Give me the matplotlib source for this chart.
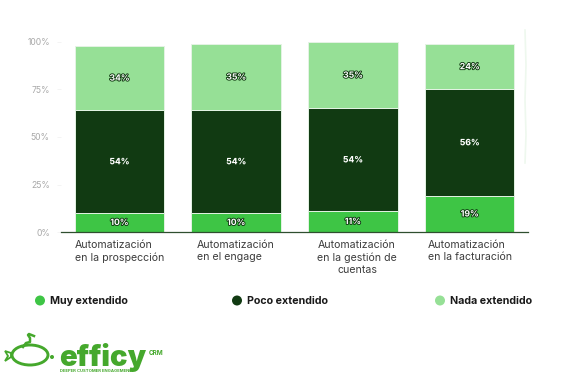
import matplotlib

matplotlib.use("Agg")
import matplotlib.pyplot as plt
import matplotlib.patheffects as pe
import numpy as np
from matplotlib.patches import Circle, Ellipse, Polygon
from matplotlib.transforms import ScaledTranslation

W, H = 570, 375

categories = [
    "Automatización\nen la prospección",
    "Automatización\nen el engage",
    "Automatización\nen la gestión de\ncuentas",
    "Automatización\nen la facturación",
]
muy = [10, 10, 11, 19]
poco = [54, 54, 54, 56]
nada = [34, 35, 35, 24]
series_names = ["Muy extendido", "Poco extendido", "Nada extendido"]
y_ticks = [0, 25, 50, 75, 100]
y_tick_labels = ["0%", "25%", "50%", "75%", "100%"]

C_MUY = "#3ec545"
C_POCO = "#113a12"
C_NADA = "#96e096"
LOGO = "#45a82c"

plt.rcParams["font.family"] = ["Inter", "DejaVu Sans"]

fig = plt.figure(figsize=(W / 100, H / 100), dpi=100)
ax = fig.add_axes([61 / W, (H - 232) / H, 467 / W, 190 / H])

x = np.arange(len(categories))
bottom = np.zeros(len(categories))
for vals, color in [(muy, C_MUY), (poco, C_POCO), (nada, C_NADA)]:
    ax.bar(x, vals, width=0.767, bottom=bottom, color=color,
           edgecolor="#e4f3e4", linewidth=0.7)
    for xi, b, v in zip(x, bottom, vals):
        stroke = 0.4 if color == C_POCO else 1.3
        ax.text(xi, b + v / 2, f"{v}%", ha="center", va="center", color="white",
                fontsize=6.2, fontweight="bold",
                path_effects=[pe.withStroke(linewidth=stroke, foreground="#0f3a10")])
    bottom = bottom + np.array(vals)

ax.set_xlim(-0.5, 3.5)
ax.set_ylim(0, 100)
ax.set_xticks(x)
ax.set_xticklabels(categories, fontsize=7.6, color="#3c3c3c", linespacing=1.3)
ax.set_yticks(y_ticks)
ax.set_yticklabels(y_tick_labels, fontsize=6.2, color="#a8a8a8")
ax.tick_params(axis="x", length=0, pad=5.5)
ax.tick_params(axis="y", length=3, width=0.5, color="#f0f0f0", pad=5)
for i, lab in enumerate(ax.get_xticklabels()):
    if i == 2:
        # third label sits a bit right of its bar and is centred
        lab.set_transform(lab.get_transform() + ScaledTranslation(3 / 72, 0, fig.dpi_scale_trans))
    else:
        lab.set_multialignment("left")
for side in ["top", "right", "left"]:
    ax.spines[side].set_visible(False)
ax.spines["bottom"].set_color("#2f4f2f")
ax.spines["bottom"].set_linewidth(0.9)

# overlay in pixel coords for legend + logo
ov = fig.add_axes([0, 0, 1, 1])
ov.set_xlim(0, W)
ov.set_ylim(H, 0)
ov.axis("off")
ov.patch.set_alpha(0)

for name, color, px in zip(series_names, [C_MUY, C_POCO, C_NADA], [40, 237, 440]):
    ov.add_patch(Circle((px, 300.5), 5, color=color, lw=0))
    ov.text(px + 10, 300.5, name, va="center", ha="left", fontsize=7.7,
            fontweight="bold", color="#1a1a1a")

# faint scan artefact at the right of the plot
ov.plot([525, 526, 525, 526, 525], [30, 65, 100, 135, 163], color="#eef8ee", lw=1.2)

# logo
ov.add_patch(Ellipse((30, 355), 36, 20, fill=False, ec=LOGO, lw=2.1))
ov.plot([23, 26, 30, 30, 28, 29, 34], [347, 343, 342, 338, 335, 334, 336], color=LOGO, lw=1.8)
ov.add_patch(Polygon([[11, 353], [5, 351], [8, 356], [5, 361], [11, 357]], closed=True,
                     fill=False, ec=LOGO, lw=1.3))
ov.add_patch(Circle((52, 357), 2, color=LOGO, lw=0))
ov.text(59, 366, "efficy", fontsize=21, fontweight="black", color=LOGO, va="baseline", ha="left")
ov.text(149, 353, "CRM", fontsize=4.6, fontweight="bold", color=LOGO, va="center", ha="left")
ov.text(60, 371.5, "DEEPER CUSTOMER ENGAGEMENT", fontsize=3, fontweight="bold", color=LOGO,
        va="center", ha="left")

fig.savefig("out.png", dpi=100)
plt.close(fig)
